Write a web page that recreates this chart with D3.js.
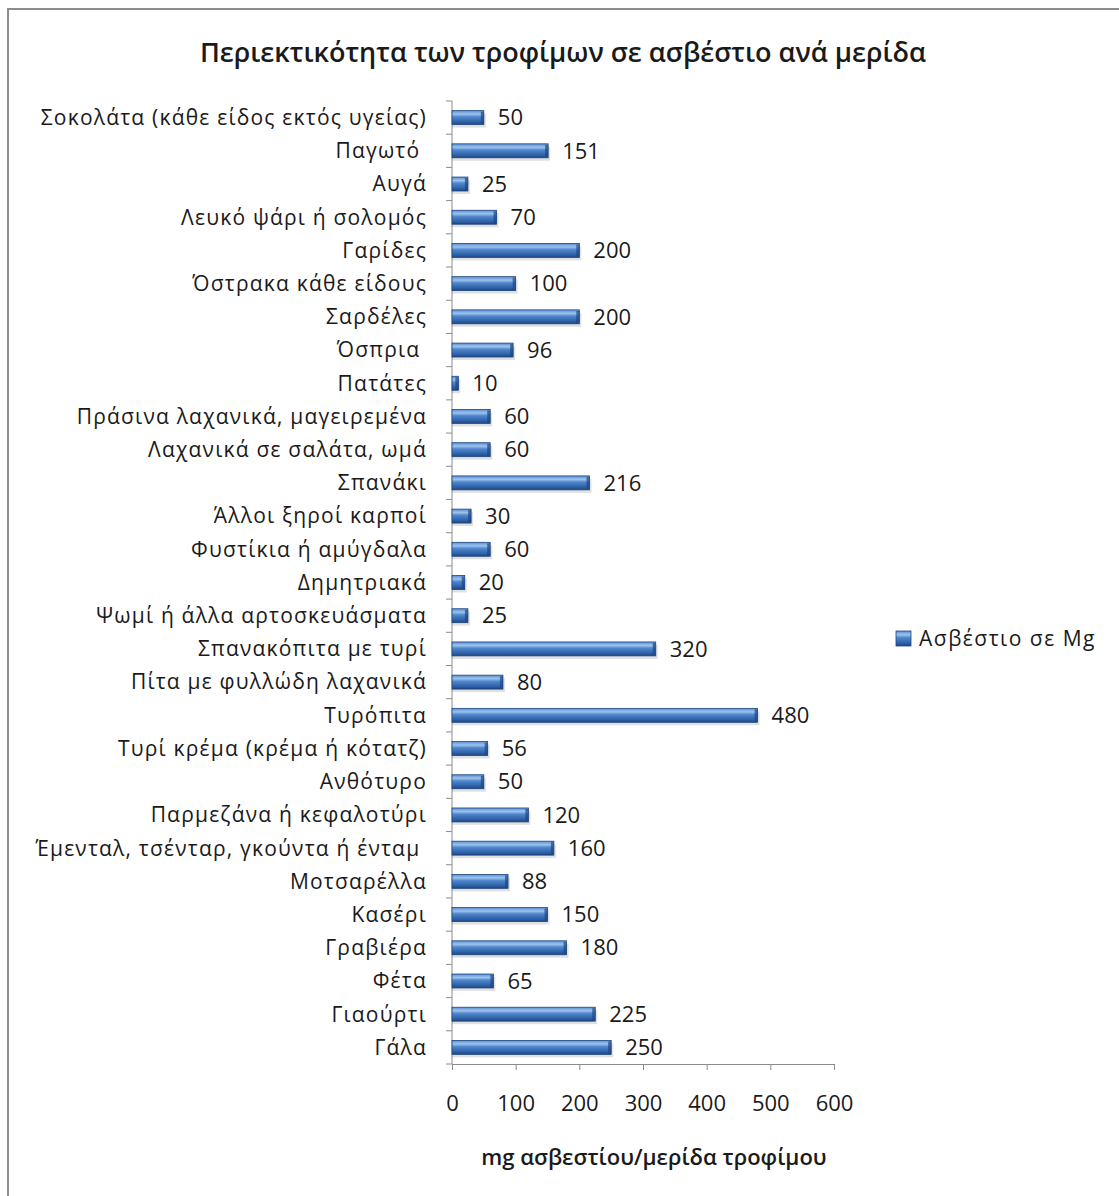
<!DOCTYPE html>
<html>
<head>
	<meta charset="utf-8">
	<title>Ασβέστιο ανά μερίδα</title>
	<script src="https://d3js.org/d3.v7.min.js"></script>
	<style>
		body { margin: 0; background: #fff; }
		text { font-family: "Open Sans", "Noto Sans", sans-serif; fill: #1a1a1a; }
	</style>
</head>
<body>
	<div id="chart"></div>
	<script>
		// categories from top to bottom, as in the picture
		var foods = ["Σοκολάτα (κάθε είδος εκτός υγείας)", "Παγωτό ", "Αυγά", "Λευκό ψάρι ή σολομός",
			"Γαρίδες", "Όστρακα κάθε είδους", "Σαρδέλες", "Όσπρια ", "Πατάτες",
			"Πράσινα λαχανικά, μαγειρεμένα", "Λαχανικά σε σαλάτα, ωμά", "Σπανάκι",
			"Άλλοι ξηροί καρποί", "Φυστίκια ή αμύγδαλα", "Δημητριακά", "Ψωμί ή άλλα αρτοσκευάσματα",
			"Σπανακόπιτα με τυρί", "Πίτα με φυλλώδη λαχανικά", "Τυρόπιτα", "Τυρί κρέμα (κρέμα ή κότατζ)",
			"Ανθότυρο", "Παρμεζάνα ή κεφαλοτύρι", "Έμενταλ, τσένταρ, γκούντα ή ένταμ ",
			"Μοτσαρέλλα", "Κασέρι", "Γραβιέρα", "Φέτα", "Γιαούρτι", "Γάλα"];
		var calcium = [50, 151, 25, 70, 200, 100, 200, 96, 10, 60, 60, 216, 30, 60, 20, 25,
			320, 80, 480, 56, 50, 120, 160, 88, 150, 180, 65, 225, 250];
		var xTicks = [0, 100, 200, 300, 400, 500, 600];
		var title = "Περιεκτικότητα των τροφίμων σε ασβέστιο ανά μερίδα";
		var xTitle = "mg ασβεστίου/μερίδα τροφίμου";
		var seriesName = "Ασβέστιο σε Mg";

		var W = 1119, H = 1196;
		var plot = {left: 452, right: 834, top: 101, bottom: 1064};

		var svg = d3.select("#chart").append("svg")
			.attr("width", W)
			.attr("height", H);

		// gradient for the bevelled bars
		var defs = svg.append("defs");
		var grad = defs.append("linearGradient")
			.attr("id", "barGrad")
			.attr("x1", 0).attr("y1", 0).attr("x2", 0).attr("y2", 1);
		grad.append("stop").attr("offset", "0%").attr("stop-color", "#5b8fd0");
		grad.append("stop").attr("offset", "25%").attr("stop-color", "#9cc3ef");
		grad.append("stop").attr("offset", "45%").attr("stop-color", "#4f86cc");
		grad.append("stop").attr("offset", "80%").attr("stop-color", "#2f62a8");
		grad.append("stop").attr("offset", "100%").attr("stop-color", "#1d4680");

		// chart border (only top and left visible in the picture)
		svg.append("path")
			.attr("d", "M8," + H + "V9H" + W)
			.attr("fill", "none")
			.attr("stroke", "#8c8c8c")
			.attr("stroke-width", 2);

		var x = d3.scaleLinear().domain([0, 600]).range([plot.left, plot.right]);
		var y = d3.scaleBand().domain(foods).range([plot.top, plot.bottom]).paddingInner(0.58).paddingOuter(0.29);

		// x axis
		var xAxis = svg.append("g")
			.attr("transform", "translate(0," + plot.bottom + ")")
			.call(d3.axisBottom(x).tickValues(xTicks).tickSize(6).tickPadding(25));
		xAxis.select(".domain").attr("stroke", "#8c8c8c");
		xAxis.selectAll(".tick line").attr("stroke", "#8c8c8c");
		xAxis.selectAll("text").attr("font-size", 22).attr("fill", "#1a1a1a")
			.attr("font-family", "Open Sans, Noto Sans, sans-serif");

		// y axis: ticks at band boundaries
		var yAxisG = svg.append("g");
		yAxisG.append("line")
			.attr("x1", plot.left).attr("x2", plot.left)
			.attr("y1", plot.top).attr("y2", plot.bottom)
			.attr("stroke", "#8c8c8c");
		var step = y.step();
		yAxisG.selectAll(".btick")
			.data(d3.range(foods.length + 1))
			.enter().append("line")
			.attr("x1", plot.left - 6).attr("x2", plot.left)
			.attr("y1", function(i) { return plot.top + i * step; })
			.attr("y2", function(i) { return plot.top + i * step; })
			.attr("stroke", "#8c8c8c");
		yAxisG.selectAll(".cat")
			.data(foods)
			.enter().append("text")
			.attr("x", plot.left - 25)
			.attr("y", function(d) { return y(d) + y.bandwidth() / 2; })
			.attr("dy", "0.35em")
			.attr("text-anchor", "end")
			.attr("font-size", 21)
			.attr("letter-spacing", 1.2)
			.style("white-space", "pre")
			.text(function(d) { return d; });

		// bars
		var rows = foods.map(function(f, i) { return {food: f, v: calcium[i]}; });
		svg.selectAll(".shadow")
			.data(rows)
			.enter().append("rect")
			.attr("x", x(0))
			.attr("y", function(d) { return y(d.food) + 3; })
			.attr("width", function(d) { return x(d.v) - x(0) + 2; })
			.attr("height", y.bandwidth())
			.attr("fill", "#000")
			.attr("opacity", 0.12);
		svg.selectAll(".bar")
			.data(rows)
			.enter().append("rect")
			.attr("x", x(0))
			.attr("y", function(d) { return y(d.food); })
			.attr("width", function(d) { return x(d.v) - x(0); })
			.attr("height", y.bandwidth())
			.attr("fill", "url(#barGrad)")
			.attr("stroke", "#1d4680")
			.attr("stroke-width", 0.8);
		// darker end cap
		svg.selectAll(".cap")
			.data(rows)
			.enter().append("rect")
			.attr("x", function(d) { return x(d.v) - 3; })
			.attr("y", function(d) { return y(d.food) + 1; })
			.attr("width", 3)
			.attr("height", y.bandwidth() - 2)
			.attr("fill", "#1d4680")
			.attr("opacity", 0.7);

		// value labels
		svg.selectAll(".val")
			.data(rows)
			.enter().append("text")
			.attr("x", function(d) { return x(d.v) + 14; })
			.attr("y", function(d) { return y(d.food) + y.bandwidth() / 2; })
			.attr("dy", "0.35em")
			.attr("font-size", 22)
			.text(function(d) { return d.v; });

		// title
		svg.append("text")
			.attr("x", 563)
			.attr("y", 62)
			.attr("text-anchor", "middle")
			.attr("font-size", 27)
			.attr("font-weight", 600)
			.text(title);

		// x axis title
		svg.append("text")
			.attr("x", 654)
			.attr("y", 1165)
			.attr("text-anchor", "middle")
			.attr("font-size", 22)
			.attr("font-weight", 600)
			.text(xTitle);

		// legend
		var leg = svg.append("g").attr("transform", "translate(896,631)");
		leg.append("rect")
			.attr("width", 15).attr("height", 15)
			.attr("fill", "url(#barGrad)")
			.attr("stroke", "#1d4680")
			.attr("stroke-width", 0.8);
		leg.append("text")
			.attr("x", 23)
			.attr("y", 8)
			.attr("dy", "0.35em")
			.attr("font-size", 21)
			.attr("letter-spacing", 1.5)
			.text(seriesName);
	</script>
</body>
</html>
